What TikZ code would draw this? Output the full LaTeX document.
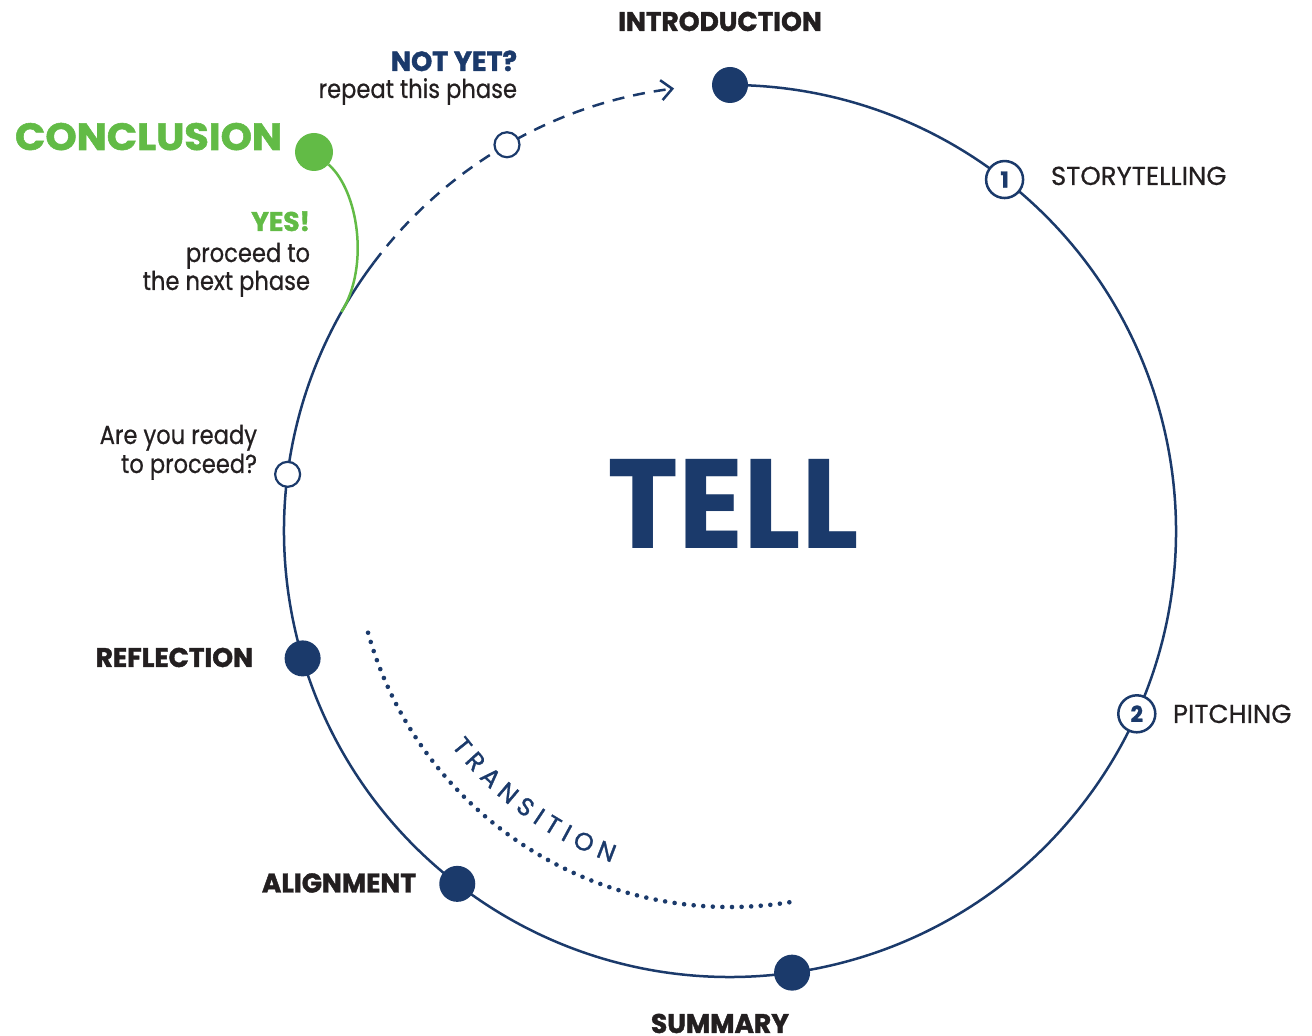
\documentclass[tikz,border=0pt]{standalone}
\usepackage{fontspec}
\setmainfont{Poppins}
\newfontfamily\heavyfont{Poppins}[FakeStretch=0.98,BoldFeatures={FakeBold=1.5}]
\newfontfamily\conclfont{Poppins}[FakeStretch=1.05,BoldFeatures={FakeBold=1.5}]
\newfontfamily\bookfont{Poppins}[FakeStretch=0.87,FakeBold=0.6]
\newfontfamily\stagefont{Poppins}[FakeStretch=1.0,FakeBold=0.6]
\newfontfamily\transfont{Poppins}[FakeStretch=1.0,FakeBold=1.3]
\newfontfamily\tellfont{Poppins}[FakeStretch=0.95]
\usetikzlibrary{arrows.meta,decorations.text,calc}
\definecolor{navy}{RGB}{27,58,107}
\definecolor{leaf}{RGB}{98,187,70}
\definecolor{ink}{RGB}{35,31,32}
\begin{document}
\begin{tikzpicture}[x=1pt,y=1pt,
  every node/.style={inner sep=0pt,outer sep=0pt},
  bigdot/.style={circle,fill=navy,minimum size=36pt},
  opendot/.style={circle,draw=navy,line width=2.2pt,fill=white,minimum size=25pt},
  numdot/.style={circle,draw=navy,line width=2.5pt,fill=white,minimum size=37pt,
    font=\heavyfont\bfseries\fontsize{22}{22}\selectfont,text=navy},
  phase/.style={font=\heavyfont\bfseries\fontsize{27}{27}\selectfont,text=ink},
  stage/.style={font=\stagefont\fontsize{26}{26}\selectfont,text=ink},
  book/.style={font=\bookfont\fontsize{26}{26}\selectfont,text=ink},
  ring/.style={draw=navy,line width=2.5pt},
]
\useasboundingbox (0,0) rectangle (1312,1036);
\coordinate (C) at (730,505);

% main ring (solid part) and the dashed "not yet" return
\coordinate (J) at ($(C)+(143:446)$);
\coordinate (A) at ($(C)+(97.2:446)$);
\draw[ring] (J) arc[start angle=143,end angle=450,radius=446pt];
\draw[ring,dash pattern=on 12pt off 9pt,-{Straight Barb[length=11pt,width=20pt,line width=2.5pt]}]
  (J) arc[start angle=143,end angle=97.2,radius=446pt];

% transition
\draw[navy,line width=4.6pt,line cap=round,dash pattern=on 0pt off 9.6pt]
  ($(C)+(195.7:376)$) arc[start angle=195.7,end angle=279.2,radius=376pt];
\path[decorate,decoration={text along path,text align=center,
  text={|\transfont\fontsize{25}{25}\selectfont\color{navy}|T R A N S I T I O N}}]
  ($(C)+(204:352)$) arc[start angle=204,end angle=264,radius=352pt];

% conclusion branch
\node[circle,fill=leaf,minimum size=38pt] (concl) at (314,884) {};
\coordinate (G) at ($(C)+(150.6:446)$);
\draw[leaf,line width=2.5pt] (concl) .. controls (358,846) and (370,770) .. (G);

% nodes on the ring
\node[bigdot] (intro) at ($(C)+(90:446)$) {};
\node[numdot] (story) at ($(C)+(52:446)$) {1};
\node[numdot] (pitch) at ($(C)+(-24.2:446)$) {2};
\node[bigdot] (summ) at ($(C)+(-82:446)$) {};
\node[bigdot] (align) at ($(C)+(232.3:446)$) {};
\node[bigdot] (refl) at ($(C)+(196.6:446)$) {};
\node[opendot] (ready) at ($(C)+(172.7:446)$) {};
\node[opendot] (notyet) at ($(C)+(120:446)$) {};

% labels
\node[phase,anchor=base] (tintro) at (720,1005) {INTRODUCTION};
\node[stage,anchor=base west] (tstory) at (1051,851) {STORYTELLING};
\node[stage,anchor=base west] (tpitch) at (1173,313) {PITCHING};
\node[phase,anchor=base] (tsumm) at (720,3) {SUMMARY};
\node[phase,anchor=base east] (talign) at (416,143.5) {ALIGNMENT};
\node[phase,anchor=base east] (trefl) at (253,369) {REFLECTION};
\node[book,anchor=base east] (tready1) at (257,592) {Are you ready};
\node[book,anchor=base east] (tready2) at (257,563) {to proceed?};
\node[phase,anchor=base east,text=navy,font=\heavyfont\bfseries\fontsize{27.5}{28}\selectfont] (tnot) at (517,965) {NOT YET?};
\node[book,anchor=base east] (trep) at (517,938) {repeat this phase};
\node[anchor=base west,text=leaf,font=\conclfont\bfseries\fontsize{38}{38}\selectfont] (tconcl) at (15,886) {CONCLUSION};
\node[anchor=base east,text=leaf,font=\heavyfont\bfseries\fontsize{27}{27}\selectfont] (tyes) at (310,805) {YES!};
\node[book,anchor=base east] (tyes1) at (310,774) {proceed to};
\node[book,anchor=base east] (tyes2) at (310,746) {the next phase};
\node[anchor=base,text=navy,font=\tellfont\bfseries\fontsize{127}{127}\selectfont] (tell) at (733,487) {TELL};
\end{tikzpicture}
\end{document}
